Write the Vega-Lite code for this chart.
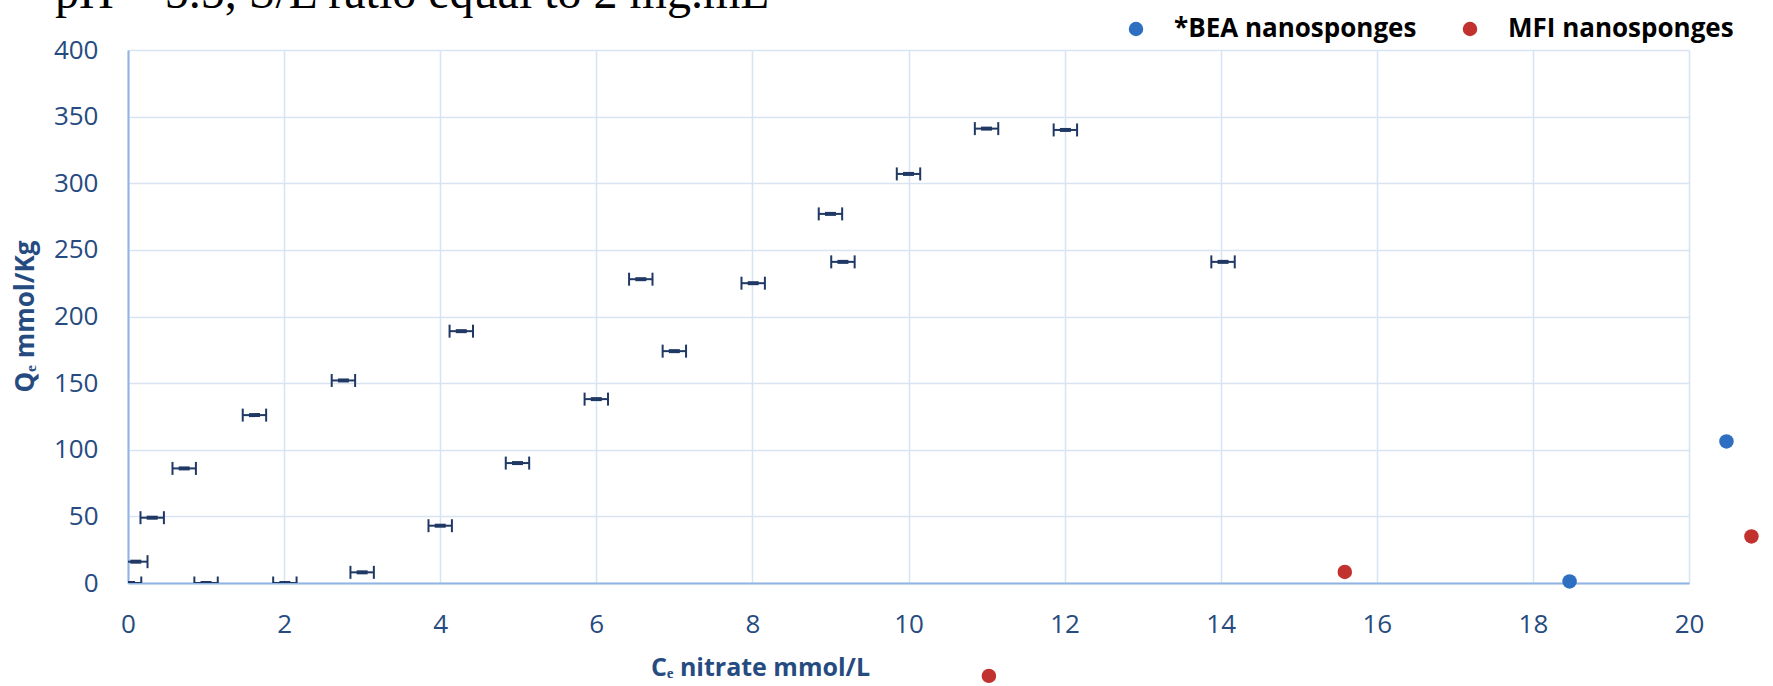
{
  "$schema": "https://vega.github.io/schema/vega-lite/v6.json",
  "width": 1561,
  "height": 533,
  "autosize": {"type": "none"},
  "padding": {"left": 128, "top": 50, "right": 84, "bottom": 103},
  "background": "white",
  "title": {
    "text": "pH = 5.5, S/L ratio equal to 2 mg.mL",
    "anchor": "start",
    "frame": "group",
    "font": "Liberation Serif",
    "fontSize": 48,
    "fontWeight": "normal",
    "color": "#000000",
    "baseline": "alphabetic",
    "dx": -73,
    "offset": -40
  },
  "config": {
    "view": {"stroke": null},
    "axis": {
      "labelFont": "Open Sans",
      "titleFont": "Open Sans",
      "labelColor": "#264B80",
      "titleColor": "#264B80",
      "gridColor": "#D9E4F3",
      "gridWidth": 1.6,
      "domainColor": "#8FB4E3",
      "domainWidth": 2,
      "ticks": false,
      "tickSize": 0,
      "labelFlush": false
    }
  },
  "datasets": {
    "bars": [
      {"x": 0.02, "xlo": -0.13, "xhi": 0.17, "q": 0},
      {"x": 0.1, "xlo": -0.05, "xhi": 0.25, "q": 16},
      {"x": 0.31, "xlo": 0.16, "xhi": 0.46, "q": 49},
      {"x": 0.72, "xlo": 0.57, "xhi": 0.87, "q": 86},
      {"x": 1.0, "xlo": 0.85, "xhi": 1.15, "q": 0},
      {"x": 1.62, "xlo": 1.47, "xhi": 1.77, "q": 126},
      {"x": 2.01, "xlo": 1.86, "xhi": 2.16, "q": 0},
      {"x": 2.76, "xlo": 2.61, "xhi": 2.91, "q": 152},
      {"x": 3.0, "xlo": 2.85, "xhi": 3.15, "q": 8},
      {"x": 4.0, "xlo": 3.85, "xhi": 4.15, "q": 43},
      {"x": 4.27, "xlo": 4.12, "xhi": 4.42, "q": 189},
      {"x": 4.99, "xlo": 4.84, "xhi": 5.14, "q": 90},
      {"x": 6.0, "xlo": 5.85, "xhi": 6.15, "q": 138},
      {"x": 6.57, "xlo": 6.42, "xhi": 6.72, "q": 228},
      {"x": 7.0, "xlo": 6.85, "xhi": 7.15, "q": 174},
      {"x": 8.01, "xlo": 7.86, "xhi": 8.16, "q": 225},
      {"x": 9.0, "xlo": 8.85, "xhi": 9.15, "q": 277},
      {"x": 9.16, "xlo": 9.01, "xhi": 9.31, "q": 241},
      {"x": 10.0, "xlo": 9.85, "xhi": 10.15, "q": 307},
      {"x": 11.0, "xlo": 10.85, "xhi": 11.15, "q": 341},
      {"x": 12.01, "xlo": 11.86, "xhi": 12.16, "q": 340},
      {"x": 14.03, "xlo": 13.88, "xhi": 14.18, "q": 241}
    ],
    "dots": [
      {"x": 18.47, "q": 1.2, "series": "*BEA nanosponges"},
      {"x": 20.48, "q": 106.2, "series": "*BEA nanosponges"},
      {"x": 15.59, "q": 8.3, "series": "MFI nanosponges"},
      {"x": 20.8, "q": 34.9, "series": "MFI nanosponges"},
      {"x": 11.03, "q": -69.7, "series": "MFI nanosponges"}
    ]
  },
  "layer": [
    {
      "data": {"name": "bars"},
      "mark": {"type": "rule", "color": "#1F3864", "strokeWidth": 2, "clip": true},
      "encoding": {
        "x": {
          "field": "xlo", "type": "quantitative",
          "scale": {"domain": [0, 20], "nice": false, "zero": false},
          "axis": {
            "values": [0, 2, 4, 6, 8, 10, 12, 14, 16, 18, 20],
            "format": "d",
            "labelFontSize": 26,
            "labelPadding": 28,
            "title": "Cₑ nitrate  mmol/L",
            "titleFontSize": 25,
            "titleFontWeight": "bold",
            "titleAlign": "center",
            "titleBaseline": "middle",
            "titleX": 632,
            "titleY": 84
          }
        },
        "x2": {"field": "xhi"},
        "y": {
          "field": "q", "type": "quantitative",
          "scale": {"domain": [0, 400], "nice": false, "zero": false},
          "axis": {
            "values": [0, 50, 100, 150, 200, 250, 300, 350, 400],
            "format": "d",
            "labelFontSize": 26,
            "labelPadding": 30,
            "title": "Qₑ mmol/Kg",
            "titleFontSize": 26,
            "titleFontWeight": "bold",
            "titleAngle": -90,
            "titleAlign": "center",
            "titleBaseline": "middle",
            "titleX": -103,
            "titleY": 266
          }
        }
      }
    },
    {
      "data": {"name": "bars"},
      "mark": {"type": "tick", "color": "#1F3864", "size": 13, "thickness": 2, "clip": true, "opacity": 1},
      "encoding": {
        "x": {"field": "xlo", "type": "quantitative", "scale": {"domain": [0, 20], "nice": false, "zero": false}},
        "y": {"field": "q", "type": "quantitative", "scale": {"domain": [0, 400], "nice": false, "zero": false}}
      }
    },
    {
      "data": {"name": "bars"},
      "mark": {"type": "tick", "color": "#1F3864", "size": 13, "thickness": 2, "clip": true, "opacity": 1},
      "encoding": {
        "x": {"field": "xhi", "type": "quantitative", "scale": {"domain": [0, 20], "nice": false, "zero": false}},
        "y": {"field": "q", "type": "quantitative", "scale": {"domain": [0, 400], "nice": false, "zero": false}}
      }
    },
    {
      "data": {"name": "bars"},
      "mark": {"type": "tick", "orient": "horizontal", "color": "#1F3864", "size": 11, "thickness": 4, "clip": true, "opacity": 1},
      "encoding": {
        "x": {"field": "x", "type": "quantitative", "scale": {"domain": [0, 20], "nice": false, "zero": false}},
        "y": {"field": "q", "type": "quantitative", "scale": {"domain": [0, 400], "nice": false, "zero": false}}
      }
    },
    {
      "data": {"name": "dots"},
      "mark": {"type": "point", "filled": true, "opacity": 1, "size": 210, "clip": false},
      "encoding": {
        "x": {"field": "x", "type": "quantitative", "scale": {"domain": [0, 20], "nice": false, "zero": false}},
        "y": {"field": "q", "type": "quantitative", "scale": {"domain": [0, 400], "nice": false, "zero": false}},
        "color": {
          "field": "series", "type": "nominal",
          "scale": {"domain": ["*BEA nanosponges", "MFI nanosponges"], "range": ["#2F6FC1", "#C1312D"]},
          "legend": {
            "title": null,
            "orient": "none",
            "legendX": 995,
            "legendY": -34,
            "direction": "horizontal",
            "symbolType": "circle",
            "symbolSize": 210,
            "symbolOpacity": 1,
            "labelFont": "Open Sans",
            "labelFontSize": 26,
            "labelFontWeight": "bold",
            "labelColor": "#000000",
            "labelOffset": 25,
            "columnPadding": 40,
            "labelLimit": 400
          }
        }
      }
    }
  ]
}
